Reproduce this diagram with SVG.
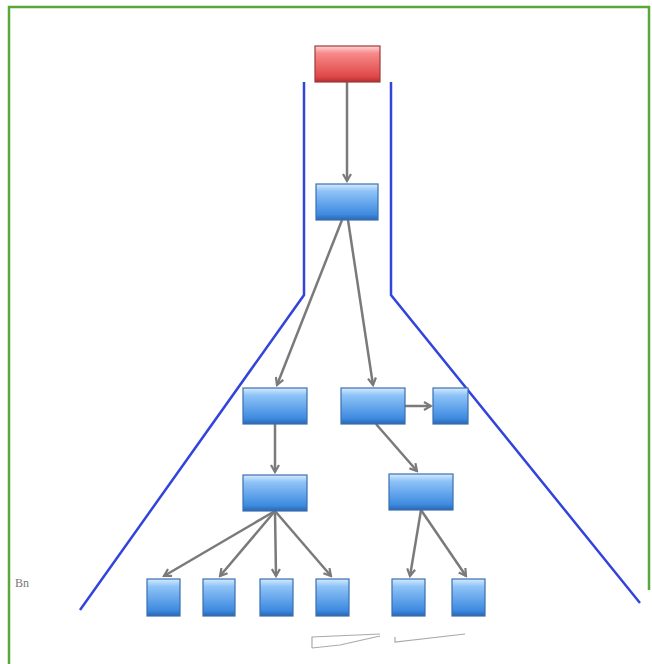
<svg xmlns="http://www.w3.org/2000/svg" width="652" height="664" viewBox="0 0 652 664">
<defs>
<linearGradient id="gb" x1="0" y1="0" x2="0" y2="1">
<stop offset="0" stop-color="#d6ebff"/>
<stop offset="0.2" stop-color="#8ec3f7"/>
<stop offset="0.85" stop-color="#3d8ae0"/>
<stop offset="1" stop-color="#2c66b0"/>
</linearGradient>
<linearGradient id="gr" x1="0" y1="0" x2="0" y2="1">
<stop offset="0" stop-color="#ffd6d6"/>
<stop offset="0.2" stop-color="#f78a8a"/>
<stop offset="0.85" stop-color="#e04848"/>
<stop offset="1" stop-color="#b03030"/>
</linearGradient>
<marker id="ah" markerWidth="10" markerHeight="10" refX="8" refY="5" orient="auto" markerUnits="userSpaceOnUse">
<path d="M1,1 L8,5 L1,9" fill="none" stroke="#7a7a7a" stroke-width="2.2"/>
</marker>
<style>
.n{fill:url(#gb);stroke:#3a6fb0;stroke-width:1.2}
.r{fill:url(#gr);stroke:#a03a3a;stroke-width:1.2}
.c{stroke:#7a7a7a;stroke-width:2.5;fill:none;marker-end:url(#ah)}
.b{stroke:#3344dd;stroke-width:2.5;fill:none}
</style>
</defs>
<rect width="652" height="664" fill="#ffffff"/>
<path d="M9,664 L9,7 L649,7 L649,590" fill="none" stroke="#5aa83c" stroke-width="2.5"/>
<g id="funnel">
<path class="b" d="M304,82 L304,295 L80,610"/>
<path class="b" d="M391,82 L391,295 L640,603"/>
</g>
<g id="connectors">
<line class="c" x1="347" y1="82" x2="347" y2="181"/>
<line class="c" x1="342" y1="220" x2="277" y2="385"/>
<line class="c" x1="348" y1="220" x2="373" y2="385"/>
<line class="c" x1="405" y1="406" x2="431" y2="406"/>
<line class="c" x1="376" y1="424" x2="417" y2="471"/>
<line class="c" x1="275" y1="424" x2="275" y2="472"/>
<line class="c" x1="275" y1="511" x2="164" y2="576"/>
<line class="c" x1="275" y1="511" x2="220" y2="576"/>
<line class="c" x1="275" y1="511" x2="276" y2="576"/>
<line class="c" x1="275" y1="511" x2="331" y2="576"/>
<line class="c" x1="421" y1="510" x2="410" y2="576"/>
<line class="c" x1="421" y1="510" x2="466" y2="576"/>
</g>
<g id="root"><rect class="r" x="315" y="46" width="65" height="36"/></g>
<g id="n1"><rect class="n" x="316" y="184" width="62" height="36"/></g>
<g id="n2"><rect class="n" x="243" y="388" width="64" height="36"/></g>
<g id="n3"><rect class="n" x="341" y="388" width="64" height="36"/></g>
<g id="n4"><rect class="n" x="433" y="388" width="35" height="36"/></g>
<g id="n5"><rect class="n" x="243" y="475" width="64" height="36"/></g>
<g id="n6"><rect class="n" x="389" y="474" width="64" height="36"/></g>
<g id="l1"><rect class="n" x="147" y="579" width="33" height="37"/></g>
<g id="l2"><rect class="n" x="203" y="579" width="32" height="37"/></g>
<g id="l3"><rect class="n" x="260" y="579" width="33" height="37"/></g>
<g id="l4"><rect class="n" x="316" y="579" width="33" height="37"/></g>
<g id="l5"><rect class="n" x="392" y="579" width="33" height="37"/></g>
<g id="l6"><rect class="n" x="452" y="579" width="33" height="37"/></g>
<text x="15" y="587" font-family="Liberation Serif, serif" font-size="12" fill="#777777">Bn</text>
<path d="M312,648 L312,637 L380,634 M312,648 L340,645 L380,636 M395,637 L395,642 L465,634" fill="none" stroke="#aaaaaa" stroke-width="1.2"/>
</svg>
